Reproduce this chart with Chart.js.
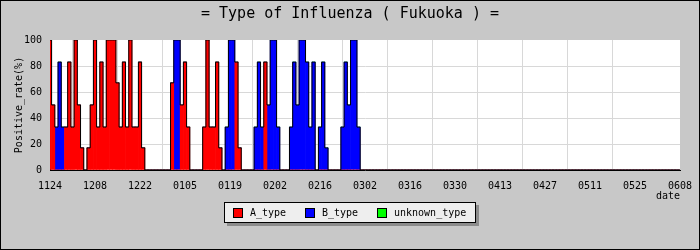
<!DOCTYPE html>
<html>
<head>
<meta charset="utf-8">
<script src="https://cdn.jsdelivr.net/npm/chart.js@4/dist/chart.umd.min.js"></script>
<style>
  html, body { margin: 0; padding: 0; background: #c8c8c8; }
  #wrap { width: 700px; height: 250px; }
</style>
</head>
<body>
<div id="wrap"><canvas id="fluChart" width="700" height="250"></canvas></div>
<script>
const tickLabels = ['1124', '1208', '1222', '0105', '0119', '0202', '0216', '0302', '0316', '0330', '0413', '0427', '0511', '0525', '0608'];
const dayCount = 197; // 1124 .. 0608, one bar per day

// A type (red): day offset from 1124 and positive rate
const aDay = [0, 1, 5, 6, 7, 8, 9, 10, 12, 13, 14, 15, 16, 17, 18, 19, 20, 21, 22, 23, 24, 25, 26, 27, 28, 29, 38, 41, 42, 43, 48, 49, 50, 51, 52, 53, 58, 59, 67];
const aRate = [100, 50, 33, 83, 33, 100, 50, 17, 17, 50, 100, 33, 83, 33, 100, 100, 100, 67, 33, 83, 33, 100, 33, 33, 83, 17, 67, 50, 83, 33, 33, 100, 33, 33, 83, 17, 83, 17, 83];

// B type (blue)
const bDay = [2, 3, 4, 39, 40, 55, 56, 57, 64, 65, 66, 68, 69, 70, 71, 75, 76, 77, 78, 79, 80, 81, 82, 84, 85, 86, 91, 92, 93, 94, 95, 96];
const bRate = [33, 83, 33, 100, 100, 33, 100, 100, 33, 83, 33, 50, 100, 100, 33, 33, 83, 50, 100, 100, 83, 33, 83, 33, 83, 17, 33, 83, 50, 100, 100, 33];

// unknown type (green): none in this season
const unknownDay = [];
const unknownRate = [];

const monoFont = '"DejaVu Sans Mono", "Liberation Mono", monospace';

function toSeries(days, rates) {
  const out = [];
  for (let i = 0; i < dayCount; i++) out.push({ x: i, y: 0 });
  days.forEach((d, i) => { out[d].y = rates[i]; });
  return out;
}

const aSeries = toSeries(aDay, aRate);
const bSeries = toSeries(bDay, bRate);
const unknownSeries = toSeries(unknownDay, unknownRate);
const totalSeries = aSeries.map((p, i) => ({ x: i, y: p.y + bSeries[i].y + unknownSeries[i].y }));

const frame = {
  id: 'frame',
  beforeDraw(chart) {
    const ctx = chart.ctx;
    const a = chart.chartArea;
    ctx.save();
    ctx.fillStyle = '#c8c8c8';
    ctx.fillRect(0, 0, chart.width, chart.height);
    ctx.strokeStyle = '#000';
    ctx.lineWidth = 1;
    ctx.strokeRect(0.5, 0.5, chart.width - 1, chart.height - 1);
    ctx.fillStyle = '#fff';
    ctx.fillRect(a.left, a.top, a.right - a.left, a.bottom - a.top);
    ctx.fillStyle = '#000';
    ctx.font = '15px ' + monoFont;
    ctx.textAlign = 'center';
    ctx.textBaseline = 'middle';
    ctx.fillText('= Type of Influenza ( Fukuoka ) =', chart.width / 2, 14);
    ctx.restore();
  },
  afterDraw(chart) {
    const ctx = chart.ctx;
    const items = chart.data.datasets.filter((ds) => ds.type !== 'line');
    ctx.save();
    ctx.fillStyle = '#8c8c8c';
    ctx.fillRect(227, 205, 252, 21);
    ctx.fillStyle = '#eeeeee';
    ctx.fillRect(224, 202, 252, 21);
    ctx.strokeStyle = '#000';
    ctx.lineWidth = 1;
    ctx.strokeRect(224.5, 202.5, 251, 20);
    ctx.font = '10px ' + monoFont;
    ctx.textAlign = 'left';
    ctx.textBaseline = 'middle';
    const xs = [233, 305, 377];
    items.forEach((ds, i) => {
      ctx.fillStyle = ds.backgroundColor;
      ctx.fillRect(xs[i], 208, 10, 10);
      ctx.strokeRect(xs[i] + 0.5, 208.5, 9, 9);
      ctx.fillStyle = '#000';
      ctx.fillText(ds.label, xs[i] + 17, 213);
    });
    ctx.restore();
  },
};

const ctx = document.getElementById('fluChart').getContext('2d');
const fluChart = new Chart(ctx, {
  type: 'bar',
  data: {
    datasets: [
      {
        type: 'line',
        label: 'outline',
        data: totalSeries,
        stepped: 'middle',
        borderColor: '#000',
        borderWidth: 1,
        pointRadius: 0,
        fill: false,
        order: 0,
      },
      { label: 'A_type', data: aSeries, backgroundColor: '#ff0000', order: 1 },
      { label: 'B_type', data: bSeries, backgroundColor: '#0000ff', order: 1 },
      { label: 'unknown_type', data: unknownSeries, backgroundColor: '#00ff00', order: 1 },
    ],
  },
  options: {
    responsive: false,
    animation: false,
    barPercentage: 1,
    categoryPercentage: 1,
    layout: { padding: { top: 40, right: 20, bottom: 48, left: 0 } },
    plugins: {
      legend: { display: false },
      title: { display: false },
      tooltip: { enabled: false },
    },
    scales: {
      x: {
        type: 'linear',
        stacked: true,
        offset: false,
        min: 0,
        max: dayCount - 1,
        afterFit: (s) => { s.height = 32; s.paddingLeft = 0; s.paddingRight = 0; },
        border: { color: '#000', width: 1 },
        grid: {
          drawTicks: false,
          color: (c) => (c.index === 0 || c.index === tickLabels.length - 1 ? 'rgba(0,0,0,0)' : '#d8d8d8'),
        },
        ticks: {
          stepSize: 14,
          autoSkip: false,
          maxRotation: 0,
          padding: 10,
          color: '#000',
          font: { family: monoFont, size: 10 },
          callback: (v) => tickLabels[v / 14],
        },
        title: {
          display: true,
          text: 'date',
          align: 'end',
          color: '#000',
          padding: { top: 0, bottom: 0 },
          font: { family: monoFont, size: 10 },
        },
      },
      y: {
        stacked: true,
        min: 0,
        max: 100,
        afterFit: (s) => { s.width = 50; s.paddingTop = 0; s.paddingBottom = 0; },
        border: { color: '#000', width: 1 },
        grid: {
          drawTicks: false,
          color: (c) => (c.tick.value === 0 || c.tick.value === 100 ? 'rgba(0,0,0,0)' : '#d8d8d8'),
        },
        ticks: {
          stepSize: 20,
          padding: 8,
          color: '#000',
          font: { family: monoFont, size: 10 },
        },
        title: {
          display: true,
          text: 'Positive_rate(%)',
          color: '#000',
          padding: { top: 13, bottom: 0 },
          font: { family: monoFont, size: 10 },
        },
      },
    },
  },
  plugins: [frame],
});
</script>
</body>
</html>
